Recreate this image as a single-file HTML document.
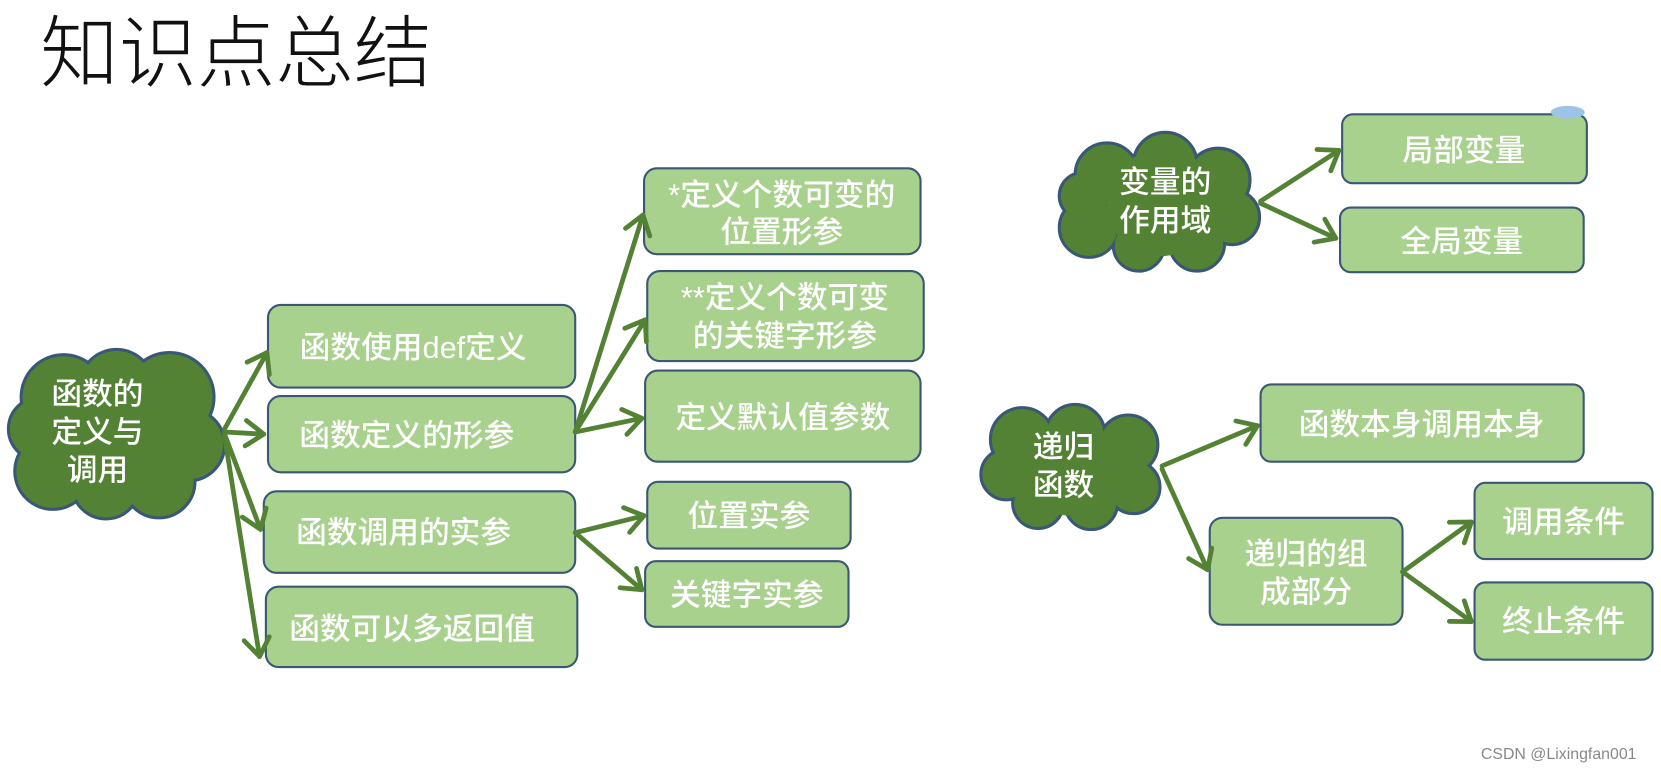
<!DOCTYPE html>
<html><head><meta charset="utf-8"><style>
html,body{margin:0;padding:0;background:#fff;width:1661px;height:773px;overflow:hidden}
svg{display:block}
text{font-family:"Liberation Sans","Noto Sans CJK SC",sans-serif;fill:#fff}
.b{fill:#a9d18e;stroke:#3a5875;stroke-width:2}
.t{font-size:29px;font-weight:500}
.a{stroke:#548235;stroke-width:4.5;fill:none;stroke-linecap:round;stroke-linejoin:round}
.cs circle{fill:#548235;stroke:#3a5875;stroke-width:3}
.cf circle{fill:#548235}
</style></head><body>
<svg width="1661" height="773" viewBox="0 0 1568 730" preserveAspectRatio="none">
<defs>
<marker id="m" markerWidth="10" markerHeight="10" refX="8" refY="5" orient="auto" markerUnits="userSpaceOnUse" viewBox="0 0 10 10" overflow="visible">
<path d="M-9,-7 L8,5 L-9,17" fill="none" stroke="#548235" stroke-width="4.5" stroke-linecap="round" stroke-linejoin="round"/>
</marker>
</defs>
<text x="38" y="76" style="fill:#111;font-size:74px;font-weight:300">知识点总结</text>

<g class="cs"><circle cx="60" cy="375" r="40"/><circle cx="110" cy="365" r="35"/><circle cx="160" cy="375" r="42"/><circle cx="178" cy="420" r="34"/><circle cx="150" cy="455" r="34"/><circle cx="100" cy="458" r="32"/><circle cx="50" cy="445" r="36"/><circle cx="38" cy="405" r="30"/></g>
<g class="cf"><circle cx="60" cy="375" r="38.5"/><circle cx="110" cy="365" r="33.5"/><circle cx="160" cy="375" r="40.5"/><circle cx="178" cy="420" r="32.5"/><circle cx="150" cy="455" r="32.5"/><circle cx="100" cy="458" r="30.5"/><circle cx="50" cy="445" r="34.5"/><circle cx="38" cy="405" r="28.5"/><circle cx="110" cy="410" r="60"/></g>
<text class="t" x="92" y="382" text-anchor="middle">函数的</text>
<text class="t" x="92" y="418" text-anchor="middle">定义与</text>
<text class="t" x="92" y="454" text-anchor="middle">调用</text>

<g class="cs"><circle cx="1045" cy="165" r="30"/><circle cx="1100" cy="155" r="30"/><circle cx="1150" cy="170" r="30"/><circle cx="1163" cy="205" r="26"/><circle cx="1130" cy="230" r="26"/><circle cx="1075" cy="232" r="24"/><circle cx="1028" cy="215" r="28"/><circle cx="1022" cy="185" r="22"/></g>
<g class="cf"><circle cx="1045" cy="165" r="28.5"/><circle cx="1100" cy="155" r="28.5"/><circle cx="1150" cy="170" r="28.5"/><circle cx="1163" cy="205" r="24.5"/><circle cx="1130" cy="230" r="24.5"/><circle cx="1075" cy="232" r="22.5"/><circle cx="1028" cy="215" r="26.5"/><circle cx="1022" cy="185" r="20.5"/><circle cx="1095" cy="192" r="50"/></g>
<text class="t" x="1100" y="182" text-anchor="middle">变量的</text>
<text class="t" x="1100" y="218" text-anchor="middle">作用域</text>

<g class="cs"><circle cx="965" cy="415" r="30"/><circle cx="1015" cy="410" r="28"/><circle cx="1065" cy="420" r="28"/><circle cx="1070" cy="460" r="25"/><circle cx="1030" cy="475" r="25"/><circle cx="980" cy="475" r="24"/><circle cx="950" cy="448" r="24"/></g>
<g class="cf"><circle cx="965" cy="415" r="28.5"/><circle cx="1015" cy="410" r="26.5"/><circle cx="1065" cy="420" r="26.5"/><circle cx="1070" cy="460" r="23.5"/><circle cx="1030" cy="475" r="23.5"/><circle cx="980" cy="475" r="22.5"/><circle cx="950" cy="448" r="22.5"/><circle cx="1010" cy="442" r="45"/></g>
<text class="t" x="1004" y="432" text-anchor="middle">递归</text>
<text class="t" x="1004" y="468" text-anchor="middle">函数</text>

<rect class="b" x="253" y="288" width="290" height="78" rx="12"/><text class="t" x="390" y="338" text-anchor="middle">函数使用def定义</text>
<rect class="b" x="253" y="374" width="290" height="72" rx="12"/><text class="t" x="384" y="421" text-anchor="middle">函数定义的形参</text>
<rect class="b" x="249" y="464" width="294" height="77" rx="12"/><text class="t" x="381" y="513" text-anchor="middle">函数调用的实参</text>
<rect class="b" x="251" y="554" width="294" height="76" rx="12"/><text class="t" x="389" y="604" text-anchor="middle">函数可以多返回值</text>

<rect class="b" x="608" y="159" width="261" height="81" rx="12"/><text class="t" x="738" y="194" text-anchor="middle">*定义个数可变的</text><text class="t" x="738" y="229" text-anchor="middle">位置形参</text>
<rect class="b" x="611" y="256" width="261" height="85" rx="12"/><text class="t" x="741" y="291" text-anchor="middle">**定义个数可变</text><text class="t" x="741" y="327" text-anchor="middle">的关键字形参</text>
<rect class="b" x="609" y="350" width="260" height="86" rx="12"/><text class="t" x="739" y="404" text-anchor="middle">定义默认值参数</text>
<rect class="b" x="611" y="455" width="192" height="63" rx="10"/><text class="t" x="707" y="497" text-anchor="middle">位置实参</text>
<rect class="b" x="609" y="530" width="192" height="62" rx="10"/><text class="t" x="705" y="572" text-anchor="middle">关键字实参</text>

<rect class="b" x="1267" y="108" width="231" height="65" rx="10"/><text class="t" x="1382" y="152" text-anchor="middle">局部变量</text>
<rect class="b" x="1265" y="196" width="230" height="61" rx="10"/><text class="t" x="1380" y="238" text-anchor="middle">全局变量</text>
<rect class="b" x="1190" y="363" width="305" height="73" rx="10"/><text class="t" x="1342" y="411" text-anchor="middle">函数本身调用本身</text>
<rect class="b" x="1142" y="489" width="182" height="101" rx="12"/><text class="t" x="1233" y="533" text-anchor="middle">递归的组</text><text class="t" x="1233" y="569" text-anchor="middle">成部分</text>
<rect class="b" x="1392" y="456" width="168" height="72" rx="10"/><text class="t" x="1476" y="503" text-anchor="middle">调用条件</text>
<rect class="b" x="1392" y="550" width="168" height="73" rx="10"/><text class="t" x="1476" y="597" text-anchor="middle">终止条件</text>

<ellipse cx="1480" cy="106" rx="16" ry="6" fill="#9dc3e6"/>

<g class="a">
<path d="M212,405 L252,333" marker-end="url(#m)"/>
<path d="M212,408 L249,410" marker-end="url(#m)"/>
<path d="M212,410 L246,500" marker-end="url(#m)"/>
<path d="M212,412 L245,620" marker-end="url(#m)"/>
<path d="M543,408 L607,203" marker-end="url(#m)"/>
<path d="M543,408 L609,302" marker-end="url(#m)"/>
<path d="M543,408 L606,395" marker-end="url(#m)"/>
<path d="M543,503 L608,487" marker-end="url(#m)"/>
<path d="M543,503 L606,557" marker-end="url(#m)"/>
<path d="M1190,190 L1264,142" marker-end="url(#m)"/>
<path d="M1190,192 L1261,225" marker-end="url(#m)"/>
<path d="M1097,440 L1187,402" marker-end="url(#m)"/>
<path d="M1097,443 L1140,538" marker-end="url(#m)"/>
<path d="M1324,540 L1389,493" marker-end="url(#m)"/>
<path d="M1324,540 L1389,587" marker-end="url(#m)"/>
</g>
<text x="1398" y="717" style="fill:#888;font-size:15px">CSDN @Lixingfan001</text>
</svg>
</body></html>
